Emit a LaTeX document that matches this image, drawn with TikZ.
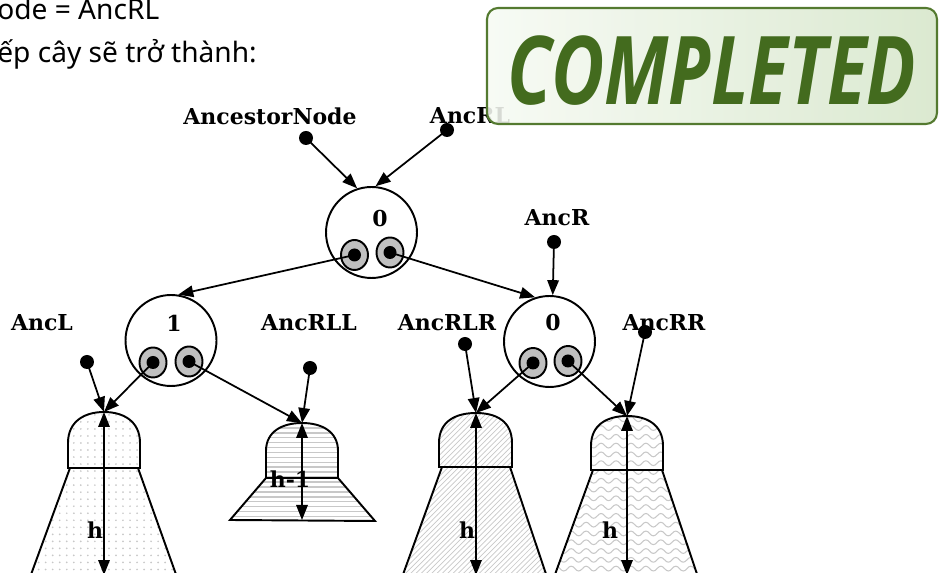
\documentclass[tikz,border=0pt]{standalone}
\usepackage{fontspec}
\usepackage{graphicx}
\setmainfont{DejaVu Serif}
\newfontfamily\notefont{Noto Sans}
\newfontfamily\stampfont{Open Sans}
\usetikzlibrary{arrows.meta, patterns, shapes.geometric, calc}
\definecolor{cStamp}{RGB}{67,107,30}
\definecolor{cStampLine}{RGB}{84,122,48}
\definecolor{cStampA}{RGB}{246,250,243}
\definecolor{cStampB}{RGB}{214,230,202}
\definecolor{cEye}{RGB}{192,192,192}
\definecolor{cHatch}{RGB}{200,200,200}
% wavy fill of the right subtree
\pgfdeclarepatternformonly{wavelines}{\pgfqpoint{-1pt}{-1pt}}{\pgfqpoint{9.5pt}{6pt}}{\pgfqpoint{8.5pt}{5pt}}{
	\pgfsetlinewidth{0.6pt}
	\pgfpathmoveto{\pgfqpoint{0pt}{2.5pt}}
	\pgfpathcurveto{\pgfqpoint{1.4pt}{4.3pt}}{\pgfqpoint{2.85pt}{4.3pt}}{\pgfqpoint{4.25pt}{2.5pt}}
	\pgfpathcurveto{\pgfqpoint{5.65pt}{0.7pt}}{\pgfqpoint{7.1pt}{0.7pt}}{\pgfqpoint{8.5pt}{2.5pt}}
	\pgfusepath{stroke}
}
% sparse dots of the left subtree
\pgfdeclarepatternformonly{sparsedots}{\pgfqpoint{-1pt}{-1pt}}{\pgfqpoint{5pt}{5pt}}{\pgfqpoint{4pt}{4pt}}{
	\pgfpathcircle{\pgfqpoint{2pt}{2pt}}{0.55pt}
	\pgfusepath{fill}
}
% thicker rules of the short subtree
\pgfdeclarepatternformonly{thicklines}{\pgfqpoint{-1pt}{-1pt}}{\pgfqpoint{101pt}{4pt}}{\pgfqpoint{100pt}{2.8pt}}{
	\pgfsetlinewidth{0.9pt}
	\pgfpathmoveto{\pgfqpoint{-1pt}{1.4pt}}
	\pgfpathlineto{\pgfqpoint{101pt}{1.4pt}}
	\pgfusepath{stroke}
}
\tikzset{
	note/.style   ={font=\notefont\fontsize{16}{19}\selectfont, inner sep=0pt},
	lbl/.style    ={font=\fontsize{12.5}{14}\selectfont\bfseries, inner sep=0pt},
	avl/.style    ={circle, draw=black, line width=1.1pt, minimum size=1.82cm, inner sep=0pt},
	eye/.style    ={ellipse, draw=black, line width=1.1pt, fill=cEye, minimum width=0.54cm, minimum height=0.6cm, inner sep=0pt,
		path picture={\fill[black] (path picture bounding box.center) circle (0.13cm);}},
	ptr/.style    ={circle, fill=black, minimum size=0.28cm, inner sep=0pt},
	link/.style   ={-{Triangle[length=3mm, width=2.3mm]}, line width=1pt},
	hgt/.style    ={{Triangle[length=3mm, width=2.3mm]}-{Triangle[length=3mm, width=2.3mm]}, line width=1pt},
	tree/.style   ={draw=black, line width=1.1pt, pattern color=cHatch},
	stamp/.style  ={draw=cStampLine, line width=1.2pt, rounded corners=0.22cm, left color=cStampA, right color=cStampB,
		fill opacity=0.88, text opacity=1,
		minimum width=9cm, minimum height=2.32cm, text=cStamp, font=\stampfont\bfseries\itshape\fontsize{54}{56}\selectfont},
}
\begin{document}
\begin{tikzpicture}[x=0.02cm, y=-0.02cm]
	\useasboundingbox (0,0) rectangle (940,573);
	\clip (0,0) rectangle (940,573);
	\node[note, anchor=base west] (l1) at (-3,20) {ode = AncRL};
	\node[note, anchor=base west] (l2) at (-3,63) {ếp cây sẽ trở thành:};
	% subtrees
	\path[tree, pattern=sparsedots] (70,468) -- (138,468) -- (178,580) -- (29,580) -- cycle;
	\path[tree, pattern=sparsedots] (68,468) -- (68,443) .. controls (68,421) and (85,412) .. (104,412)
		.. controls (123,412) and (140,421) .. (140,443) -- (140,468) -- cycle;
	\path[tree, pattern=thicklines] (266,478) -- (338,478) -- (375,521) -- (230,520) -- cycle;
	\path[tree, pattern=thicklines] (266,478) -- (266,451) .. controls (266,431) and (283,423) .. (302,423)
		.. controls (321,423) and (338,431) .. (338,451) -- (338,478) -- cycle;
	\path[tree, pattern=north east lines] (442,467) -- (510,467) -- (548,580) -- (401,580) -- cycle;
	\path[tree, pattern=north east lines] (439,467) -- (439,443) .. controls (439,421) and (456,413) .. (476,413)
		.. controls (496,413) and (512,421) .. (512,443) -- (512,467) -- cycle;
	\path[tree, pattern=wavelines] (593,470) -- (662,470) -- (699,580) -- (553,580) -- cycle;
	\path[tree, pattern=wavelines] (591,470) -- (591,446) .. controls (591,424) and (608,416) .. (627,416)
		.. controls (646,416) and (663,424) .. (663,446) -- (663,470) -- cycle;
	\coordinate (t1) at (104,412);
	\coordinate (t2) at (302,423);
	\coordinate (t3) at (476,413);
	\coordinate (t4) at (627,416);
	\coordinate (t1b) at (104,575);
	\coordinate (t2b) at (302,520);
	\coordinate (t3b) at (476,575);
	\coordinate (t4b) at (627,575);
	\draw[hgt] (t1) -- (t1b);
	\draw[hgt] (t2) -- (t2b);
	\draw[hgt] (t3) -- (t3b);
	\draw[hgt] (t4) -- (t4b);
	\node[lbl] (h1) at (95,530) {h};
	\node[lbl] (h2) at (290,479) {h-1};
	\node[lbl] (h3) at (467,530) {h};
	\node[lbl] (h4) at (610,530) {h};
	% AVL nodes
	\node[avl] (n0) at (371.5,232.5) {};
	\node[avl] (n1) at (171,340.5) {};
	\node[avl] (n2) at (549.5,341.5) {};
	\node[lbl] (b0) at (380,219) {0};
	\node[lbl] (b1) at (174,323) {1};
	\node[lbl] (b2) at (553,323) {0};
	\node[eye] (n0l) at (354.5,255) {};
	\node[eye] (n0r) at (390,252.5) {};
	\node[eye] (n1l) at (153,362.5) {};
	\node[eye] (n1r) at (189,361.5) {};
	\node[eye] (n2l) at (533,363) {};
	\node[eye] (n2r) at (568,361) {};
	% pointer names
	\node[lbl] (aAN) at (270,116) {AncestorNode};
	\node[lbl] (aRL) at (470,116) {AncRL};
	\node[lbl] (aR) at (557,218) {AncR};
	\node[lbl] (aL) at (42,323) {AncL};
	\node[lbl] (aRLL) at (309,323) {AncRLL};
	\node[lbl] (aRLR) at (447,323) {AncRLR};
	\node[lbl] (aRR) at (664,323) {AncRR};
	\node[ptr] (pAN) at (306,138) {};
	\node[ptr] (pRL) at (447,130) {};
	\node[ptr] (pR) at (554,242) {};
	\node[ptr] (pL) at (87,362) {};
	\node[ptr] (pRLL) at (310,368) {};
	\node[ptr] (pRLR) at (465,344) {};
	\node[ptr] (pRR) at (645,332) {};
	% links
	\draw[link] (pAN.center) -- (n0.108);
	\draw[link] (pRL.center) -- (n0.85);
	\draw[link] (n0l.center) -- (n1.81);
	\draw[link] (n0r.center) -- (n2.108);
	\draw[link] (pR.center) -- (n2.86);
	\draw[link] (pL.center) -- (t1);
	\draw[link] (n1l.center) -- (t1);
	\draw[link] (n1r.center) -- (t2);
	\draw[link] (pRLL.center) -- (t2);
	\draw[link] (pRLR.center) -- (t3);
	\draw[link] (n2l.center) -- (t3);
	\draw[link] (n2r.center) -- (t4);
	\draw[link] (pRR.center) -- (t4);
	% stamp
	\node[stamp] (done) at (712,66) {\raisebox{-0.1cm}[\height][\depth]{\scalebox{0.77}[1]{COMPLETED}}};
\end{tikzpicture}
\end{document}
